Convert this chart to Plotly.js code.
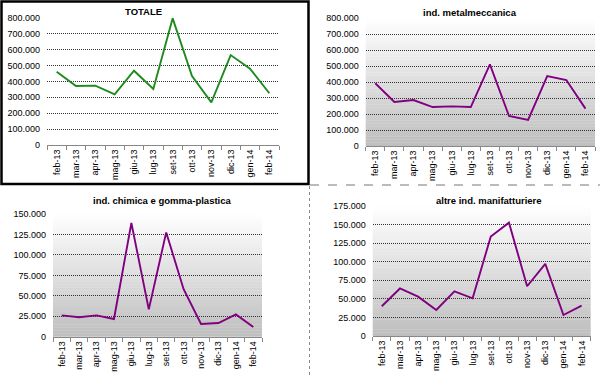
<!DOCTYPE html>
<html>
<head>
<meta charset="utf-8">
<script src="https://cdn.plot.ly/plotly-3.0.1.min.js"></script>
<style>html,body{margin:0;padding:0;background:#fff;}#chart{width:600px;height:376px;}</style>
</head>
<body>
<div id="chart"></div>
<script>
const months = ["feb-13","mar-13","apr-13","mag-13","giu-13","lug-13","set-13","ott-13","nov-13","dic-13","gen-14","feb-14"];
const totale = [461000, 371000, 373000, 318000, 467000, 352000, 796000, 434000, 268000, 565000, 480000, 325000];
const metalmeccanica = [393000, 276000, 288000, 244000, 248000, 244000, 511000, 188000, 163000, 438000, 413000, 234000];
const chimica = [26000, 23700, 26000, 21600, 139000, 33400, 127500, 58000, 15500, 16700, 27300, 11800];
const altre = [40000, 64000, 53000, 35000, 60000, 50700, 134000, 152600, 67000, 97000, 28300, 40900];
const titles = ["TOTALE", "ind. metalmeccanica", "ind. chimica e gomma-plastica", "altre ind. manifatturiere"];

const W = 600, H = 376;
const px = (a, b) => [a / W, b / W];
const py = (top, bottom) => [1 - bottom / H, 1 - top / H];

const panels = [
  {x: px(47, 279), y: py(17.7, 145), data: totale, color: "#1E8A1E", max: 800000, dtick: 100000, grad: false, tx: 143, ty: 11},
  {x: px(365.7, 595), y: py(18.3, 146), data: metalmeccanica, color: "#800080", max: 800000, dtick: 100000, grad: true, tx: 470, ty: 12.5},
  {x: px(53, 262), y: py(214, 336.7), data: chimica, color: "#800080", max: 150000, dtick: 25000, grad: true, tx: 162, ty: 200.5},
  {x: px(372.7, 590.7), y: py(206, 336), data: altre, color: "#800080", max: 175000, dtick: 25000, grad: true, tx: 489, ty: 200.5}
];

const font = "Liberation Sans, Arial, sans-serif";
const traces = [];
const layout = {
  width: W, height: H,
  margin: {l: 0, r: 0, t: 0, b: 0},
  paper_bgcolor: "#ffffff",
  plot_bgcolor: "rgba(0,0,0,0)",
  separators: ",.",
  showlegend: false,
  font: {family: font, size: 9, color: "#000"},
  shapes: [],
  annotations: []
};

function mix(t) {
  const top = 255, bot = 190;
  const v = Math.round(top + (bot - top) * t);
  return "rgb(" + v + "," + v + "," + v + ")";
}

panels.forEach((p, i) => {
  const n = i + 1;
  const xa = "x" + (n === 1 ? "" : n), ya = "y" + (n === 1 ? "" : n);
  traces.push({
    type: "scatter", mode: "lines",
    x: months, y: p.data,
    xaxis: xa, yaxis: ya,
    line: {color: p.color, width: 1.9},
    hoverinfo: "skip"
  });
  layout["xaxis" + (n === 1 ? "" : n)] = {
    domain: p.x, anchor: ya,
    type: "category",
    range: [-0.5, months.length - 0.5],
    tickangle: -90,
    ticks: "outside", ticklen: 4, tickcolor: "#888", tickson: "boundaries",
    showline: true, linecolor: "#888", linewidth: 1,
    showgrid: false, zeroline: false,
    tickfont: {family: font, size: 9, color: "#000"},
    fixedrange: true
  };
  layout["yaxis" + (n === 1 ? "" : n)] = {
    domain: p.y, anchor: xa,
    range: [0, p.max], dtick: p.dtick, tick0: 0,
    tickformat: ",d",
    showgrid: true, gridcolor: "#333", griddash: "1px,1px", gridwidth: 1,
    zeroline: false, showline: false, ticks: "",
    ticklabelstandoff: 6,
    tickfont: {family: font, size: 9, color: "#000"},
    fixedrange: true
  };
  if (p.grad) {
    const N = 40;
    for (let k = 0; k < N; k++) {
      layout.shapes.push({
        type: "rect", layer: "below",
        xref: xa + " domain", yref: ya + " domain",
        x0: 0, x1: 1, y0: 1 - (k + 1) / N, y1: 1 - k / N + 0.002,
        fillcolor: mix((k + 0.5) / N), line: {width: 0}
      });
    }
  }
  layout.annotations.push({
    xref: "paper", yref: "paper",
    x: p.tx / W, y: 1 - p.ty / H,
    xanchor: "center", yanchor: "middle",
    text: "<b>" + titles[i] + "</b>", showarrow: false,
    font: {family: font, size: 9.5, color: "#000"}
  });
});

// TOTALE frame and separators
layout.shapes.push({
  type: "rect", xref: "paper", yref: "paper", layer: "above",
  x0: 1.5 / W, x1: 308.5 / W, y0: 1 - 184 / H, y1: 1 - 1.5 / H,
  line: {color: "#000", width: 2.5}, fillcolor: "rgba(0,0,0,0)"
});
layout.shapes.push({
  type: "line", xref: "paper", yref: "paper",
  x0: 310 / W, x1: 1, y0: 1 - 185 / H, y1: 1 - 185 / H,
  line: {color: "#777", width: 1, dash: "dash"}
});
layout.shapes.push({
  type: "line", xref: "paper", yref: "paper",
  x0: 309.5 / W, x1: 309.5 / W, y0: 1 - 186 / H, y1: 0,
  line: {color: "#888", width: 1, dash: "dot"}
});

Plotly.newPlot("chart", traces, layout, {staticPlot: true, displayModeBar: false});
</script>
</body>
</html>
